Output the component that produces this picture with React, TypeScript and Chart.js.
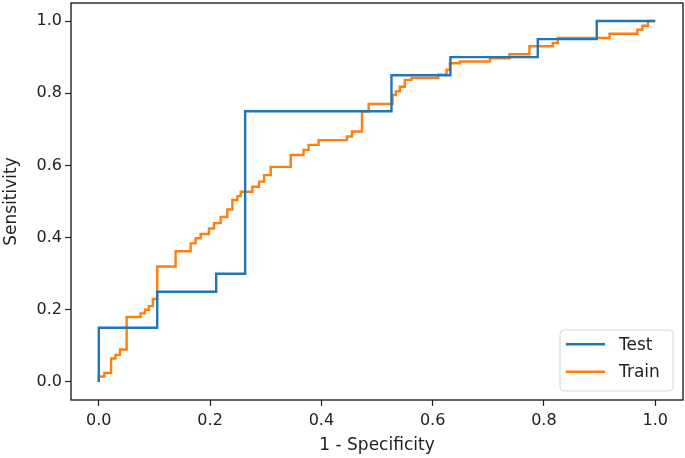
import React, { useEffect, useRef } from "react";
import { Chart, registerables } from "chart.js";

Chart.register(...registerables);

// Staircase points: each point closes a horizontal run (vertical rise happens at the previous x)
const testFpr = [0, 0.105, 0.211, 0.263, 0.526, 0.632, 0.789, 0.895, 1.0];
const testTpr = [0, 0.15, 0.25, 0.30, 0.75, 0.85, 0.90, 0.95, 1.0];

const trainFpr = [
  0, 0.010, 0.022, 0.030, 0.038, 0.050, 0.075, 0.083, 0.090, 0.097,
  0.105, 0.138, 0.165, 0.174, 0.183, 0.198, 0.207, 0.219, 0.231, 0.240,
  0.249, 0.255, 0.276, 0.288, 0.297, 0.309, 0.345, 0.368, 0.377, 0.395,
  0.446, 0.455, 0.473, 0.485, 0.528, 0.534, 0.541, 0.550, 0.562, 0.610,
  0.625, 0.631, 0.649, 0.703, 0.738, 0.774, 0.816, 0.825, 0.918, 0.968,
  0.977, 0.987, 1.0,
];
const trainTpr = [
  0, 0.015, 0.025, 0.065, 0.075, 0.090, 0.180, 0.190, 0.200, 0.210,
  0.230, 0.320, 0.362, 0.384, 0.398, 0.410, 0.425, 0.440, 0.457, 0.478,
  0.504, 0.515, 0.527, 0.541, 0.555, 0.573, 0.596, 0.629, 0.643, 0.657,
  0.670, 0.680, 0.694, 0.749, 0.770, 0.795, 0.805, 0.818, 0.837, 0.842,
  0.851, 0.865, 0.883, 0.888, 0.897, 0.908, 0.930, 0.939, 0.953, 0.965,
  0.976, 0.987, 1.0,
];

const seriesLabels = ["Test", "Train"];
const seriesColors = ["#1f77b4", "#ff7f0e"];
const xTicks = [0, 0.2, 0.4, 0.6, 0.8, 1.0];
const yTicks = [0, 0.2, 0.4, 0.6, 0.8, 1.0];
const xTitle = "1 - Specificity";
const yTitle = "Sensitivity";

const FAMILY = '"DejaVu Sans", sans-serif';
const TICK_FS = 16;
const LABEL_FS = 17;
const TEXT = "#222222";

const spinesPlugin = {
  id: "spines",
  afterDatasetsDraw(chart: any) {
    const { ctx, chartArea: ca } = chart;
    ctx.save();
    ctx.strokeStyle = "#111111";
    ctx.lineWidth = 1.3;
    ctx.strokeRect(ca.left, ca.top, ca.right - ca.left, ca.bottom - ca.top);
    ctx.restore();
  },
};

const legendPlugin = {
  id: "mplLegend",
  afterDraw(chart: any) {
    const { ctx, chartArea: ca } = chart;
    const bw = 113;
    const bh = 61;
    const bx = ca.right - 10 - bw;
    const by = ca.bottom - 9 - bh;
    ctx.save();
    ctx.beginPath();
    if ((ctx as any).roundRect) (ctx as any).roundRect(bx, by, bw, bh, 4);
    else ctx.rect(bx, by, bw, bh);
    ctx.fillStyle = "rgba(255,255,255,0.8)";
    ctx.fill();
    ctx.strokeStyle = "#d6d6d6";
    ctx.lineWidth = 1;
    ctx.stroke();
    chart.data.datasets.forEach((ds: any, i: number) => {
      const y = by + 14.3 + i * 27.4;
      ctx.beginPath();
      ctx.moveTo(bx + 5.7, y);
      ctx.lineTo(bx + 45, y);
      ctx.strokeStyle = ds.borderColor;
      ctx.lineWidth = 2.4;
      ctx.stroke();
      ctx.fillStyle = TEXT;
      ctx.font = `${LABEL_FS}px ${FAMILY}`;
      ctx.textAlign = "left";
      ctx.textBaseline = "middle";
      ctx.fillText(ds.label, bx + 59, y + 1);
    });
    ctx.restore();
  },
};

export default function App() {
  const ref = useRef<HTMLCanvasElement | null>(null);

  useEffect(() => {
    if (!ref.current) return;
    const tickFont = { family: FAMILY, size: TICK_FS };
    const labelFont = { family: FAMILY, size: LABEL_FS };
    const makeData = (xs: number[], ys: number[]) => xs.map((x, i) => ({ x, y: ys[i] }));
    const chart = new Chart(ref.current, {
      type: "line",
      data: {
        datasets: [
          {
            label: seriesLabels[0],
            data: makeData(testFpr, testTpr),
            borderColor: seriesColors[0],
            backgroundColor: seriesColors[0],
            borderWidth: 2.4,
            pointRadius: 0,
            stepped: "after",
            fill: false,
          },
          {
            label: seriesLabels[1],
            data: makeData(trainFpr, trainTpr),
            borderColor: seriesColors[1],
            backgroundColor: seriesColors[1],
            borderWidth: 2.4,
            pointRadius: 0,
            stepped: "after",
            fill: false,
          },
        ],
      },
      options: {
        responsive: false,
        animation: false,
        devicePixelRatio: 1,
        layout: { padding: { top: 3, right: 2, left: 0, bottom: 0 } },
        plugins: { legend: { display: false }, tooltip: { enabled: false } },
        scales: {
          x: {
            type: "linear",
            min: -0.05,
            max: 1.05,
            afterBuildTicks: (s: any) => {
              s.ticks = xTicks.map((v) => ({ value: v }));
            },
            afterFit: (s: any) => {
              s.height = 58;
              s.paddingLeft = 0;
              s.paddingRight = 0;
            },
            ticks: {
              callback: (v: any) => Number(v).toFixed(1),
              font: tickFont,
              color: TEXT,
              padding: 5,
              maxRotation: 0,
              autoSkip: false,
            },
            grid: {
              drawOnChartArea: false,
              drawTicks: true,
              tickLength: 6,
              tickColor: "#222222",
              tickWidth: 1.2,
            },
            border: { display: false },
            title: {
              display: true,
              text: xTitle,
              font: labelFont,
              color: TEXT,
              padding: { top: 0, bottom: 2 },
            },
          },
          y: {
            type: "linear",
            min: -0.05,
            max: 1.05,
            afterBuildTicks: (s: any) => {
              s.ticks = yTicks.map((v) => ({ value: v }));
            },
            afterFit: (s: any) => {
              s.width = 71;
              s.paddingTop = 0;
              s.paddingBottom = 0;
            },
            ticks: {
              callback: (v: any) => Number(v).toFixed(1),
              font: tickFont,
              color: TEXT,
              padding: 3,
              autoSkip: false,
            },
            grid: {
              drawOnChartArea: false,
              drawTicks: true,
              tickLength: 6,
              tickColor: "#222222",
              tickWidth: 1.2,
            },
            border: { display: false },
            title: {
              display: true,
              text: yTitle,
              font: labelFont,
              color: TEXT,
              padding: { top: 1, bottom: 0 },
            },
          },
        },
      },
      plugins: [spinesPlugin, legendPlugin],
    } as any);
    return () => chart.destroy();
  }, []);

  return (
    <div style={{ position: "absolute", left: 0, top: 0, width: 685, height: 458, background: "#fff" }}>
      <canvas ref={ref} width={685} height={458} style={{ display: "block" }} />
    </div>
  );
}
